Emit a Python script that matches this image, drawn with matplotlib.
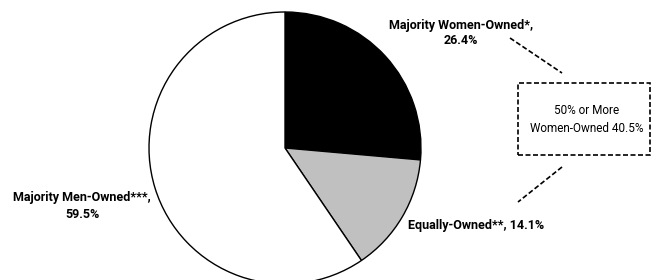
import matplotlib.pyplot as plt
from matplotlib.patches import Rectangle

labels = ["Majority Women-Owned*", "Equally-Owned**", "Majority Men-Owned***"]
shares = [26.4, 14.1, 59.5]
colors = ["#000000", "#c0c0c0", "#ffffff"]
combined_share = 40.5

font = ["Roboto", "DejaVu Sans"]
H = 280

fig = plt.figure(figsize=(6.52, 2.8), dpi=100)
ax = fig.add_axes([0, 0, 1, 1])

ax.pie(shares, colors=colors, startangle=90, counterclock=False,
       center=(285, H - 148), radius=136,
       wedgeprops=dict(edgecolor="black", linewidth=1))
ax.set_xlim(0, 652)
ax.set_ylim(0, H)
ax.axis("off")

ax.text(461, H - 33, f"{labels[0]},\n{shares[0]}%", ha="center", va="center",
        fontsize=9, fontweight="bold", family=font, linespacing=1.3)
ax.text(476, H - 226, f"{labels[1]}, {shares[1]}%", ha="center", va="center",
        fontsize=9, fontweight="bold", family=font)
ax.text(82, H - 206, f"{labels[2]},\n{shares[2]}%", ha="center", va="center",
        fontsize=9, fontweight="bold", family=font, linespacing=1.3)

# dashed callout box for the combined share
ax.add_patch(Rectangle((518, H - 155), 132, 72, fill=False, edgecolor="black",
                       linestyle=(0, (3, 1.5)), linewidth=1.2))
ax.text(587, H - 120, f"50% or More\nWomen-Owned {combined_share}%", ha="center",
        va="center", fontsize=8.5, family=font, linespacing=1.5)

ax.plot([510, 562], [H - 38, H - 73], color="black", linestyle=(0, (3, 1.5)), linewidth=1.2)
ax.plot([562, 518], [H - 167, H - 202], color="black", linestyle=(0, (3, 1.5)), linewidth=1.2)

fig.savefig("out.png", dpi=100)
